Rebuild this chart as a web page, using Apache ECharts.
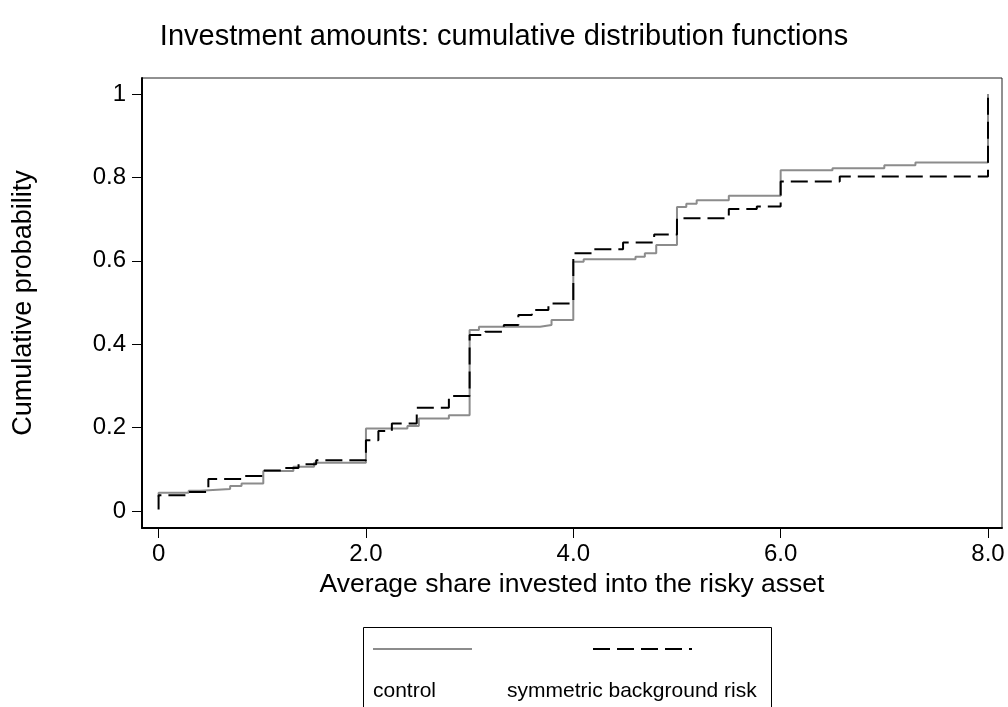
<!DOCTYPE html>
<html><head><meta charset="utf-8">
<script src="https://cdn.jsdelivr.net/npm/echarts@6/dist/echarts.min.js"></script>
<style>html,body{margin:0;padding:0;background:#fff}#c{width:1008px;height:707px}</style>
</head><body><div id="c"></div>
<script>
const titleText = 'Investment amounts: cumulative distribution functions';
const xAxisName = 'Average share invested into the risky asset';
const yAxisName = 'Cumulative probability';
const seriesNames = ['control', 'symmetric background risk'];
const xTickValues = [0, 2, 4, 6, 8];
const xTickLabels = ['0', '2.0', '4.0', '6.0', '8.0'];
const yTickValues = [0, 0.2, 0.4, 0.6, 0.8, 1];
const yTickLabels = ['0', '0.2', '0.4', '0.6', '0.8', '1'];

// control group: step points (x where the CDF jumps, value after jump)
const controlX = [0, 0, 0.29, 0.40, 0.69, 0.80, 1.01, 1.30, 1.50, 2.00, 2.40, 2.51, 2.80, 3.00, 3.09, 3.68, 3.79, 4.00, 4.10, 4.60, 4.69, 4.80, 5.00, 5.09, 5.19, 5.50, 6.00, 6.50, 7.00, 7.30, 8.00];
const controlY = [0.034, 0.044, 0.049, 0.053, 0.060, 0.066, 0.096, 0.106, 0.116, 0.198, 0.204, 0.222, 0.230, 0.434, 0.442, 0.446, 0.458, 0.598, 0.604, 0.610, 0.618, 0.638, 0.729, 0.737, 0.745, 0.756, 0.817, 0.822, 0.829, 0.836, 1.000];

// symmetric background risk group
const symX = [0, 0, 0.29, 0.48, 0.80, 1.00, 1.20, 1.35, 1.52, 2.00, 2.12, 2.25, 2.49, 2.80, 3.00, 3.15, 3.33, 3.47, 3.60, 3.76, 4.00, 4.18, 4.48, 4.78, 5.00, 5.50, 5.77, 6.00, 6.57, 8.00];
const symY = [0.004, 0.038, 0.046, 0.077, 0.084, 0.097, 0.103, 0.112, 0.122, 0.170, 0.192, 0.210, 0.248, 0.276, 0.422, 0.430, 0.446, 0.470, 0.482, 0.498, 0.618, 0.628, 0.644, 0.663, 0.702, 0.724, 0.730, 0.790, 0.802, 1.000];

const FONT = '"Liberation Sans", Arial, Helvetica, sans-serif';
const chart = echarts.init(document.getElementById('c'), null, {renderer: 'canvas'});

const xLabelMap = {};
xTickValues.forEach((v, i) => { xLabelMap[v] = xTickLabels[i]; });
const yLabelMap = {};
yTickValues.forEach((v, i) => { yLabelMap[v.toFixed(1)] = yTickLabels[i]; });

const option = {
  backgroundColor: '#fff',
  animation: false,
  textStyle: {fontFamily: FONT},
  title: {
    text: titleText,
    left: 'center',
    top: 17,
    textStyle: {fontFamily: FONT, fontSize: 29, fontWeight: 'normal', color: '#000'}
  },
  grid: {left: 142, right: 6, top: 78, bottom: 179, show: true, borderColor: '#222', borderWidth: 1, backgroundColor: 'transparent'},
  xAxis: {
    type: 'value', min: -0.16, max: 8.135,
    name: xAxisName, nameLocation: 'middle', nameGap: 38,
    nameTextStyle: {fontFamily: FONT, fontSize: 26.5, color: '#000'},
    axisLine: {show: true, onZero: false, lineStyle: {color: '#000', width: 2}},
    axisTick: {show: true, length: 10, lineStyle: {color: '#000', width: 1}, customValues: xTickValues},
    axisLabel: {
      color: '#000', fontSize: 24, fontFamily: FONT, margin: 14,
      customValues: xTickValues,
      formatter: v => (Math.abs(v - 8) < 1e-6 ? '{b|' + xLabelMap[8] + '}' : (xLabelMap[Math.round(v)] || '')),
      rich: {b: {color: '#000', fontSize: 24, fontFamily: FONT, textShadowColor: '#000', textShadowOffsetX: 0.8, textShadowBlur: 0}}
    },
    splitLine: {show: false}
  },
  yAxis: {
    type: 'value', min: -0.0406, max: 1.0384,
    name: yAxisName, nameLocation: 'middle', nameGap: 105, nameRotate: 90,
    nameTextStyle: {fontFamily: FONT, fontSize: 27, color: '#000'},
    axisLine: {show: true, onZero: false, lineStyle: {color: '#000', width: 2}},
    axisTick: {show: true, length: 10, lineStyle: {color: '#000', width: 1}, customValues: yTickValues},
    axisLabel: {
      color: '#000', fontSize: 24, fontFamily: FONT, margin: 16,
      customValues: yTickValues,
      formatter: v => (yLabelMap[v.toFixed(1)] || '')
    },
    splitLine: {show: false}
  },
  legend: [
    {data: [seriesNames[0]], left: 367, top: 637, itemWidth: 99, itemHeight: 14, selectedMode: false,
     formatter: () => '', itemStyle: {opacity: 0}, textStyle: {fontSize: 1}},
    {data: [seriesNames[1]], left: 587, top: 637, itemWidth: 99, itemHeight: 14, selectedMode: false,
     formatter: () => '', itemStyle: {opacity: 0}, textStyle: {fontSize: 1}},
    {data: [{name: seriesNames[0], icon: 'none'}], left: 363, top: 676, itemWidth: 0, itemHeight: 0, selectedMode: false,
     textStyle: {fontFamily: FONT, fontSize: 21, color: '#000'}},
    {data: [{name: seriesNames[1], icon: 'none'}], left: 497, top: 676, itemWidth: 0, itemHeight: 0, selectedMode: false,
     textStyle: {fontFamily: FONT, fontSize: 21, color: '#000'}}
  ],
  graphic: [
    {type: 'rect', left: 361, top: 625, shape: {width: 408, height: 100}, style: {fill: 'none', stroke: '#000', lineWidth: 1}, silent: true}
  ],
  series: [
    {
      name: seriesNames[0], type: 'line', step: 'end', symbol: 'none',
      data: controlX.map((x, i) => [x, controlY[i]]),
      lineStyle: {color: '#8c8c8c', width: 2},
      itemStyle: {color: '#8c8c8c'},
      z: 2
    },
    {
      name: seriesNames[1], type: 'line', step: 'end', symbol: 'none',
      data: symX.map((x, i) => [x, symY[i]]),
      lineStyle: {color: '#000', width: 2, type: [17, 7]},
      itemStyle: {color: '#000'},
      z: 3
    }
  ]
};
chart.setOption(option);
</script>
</body></html>
